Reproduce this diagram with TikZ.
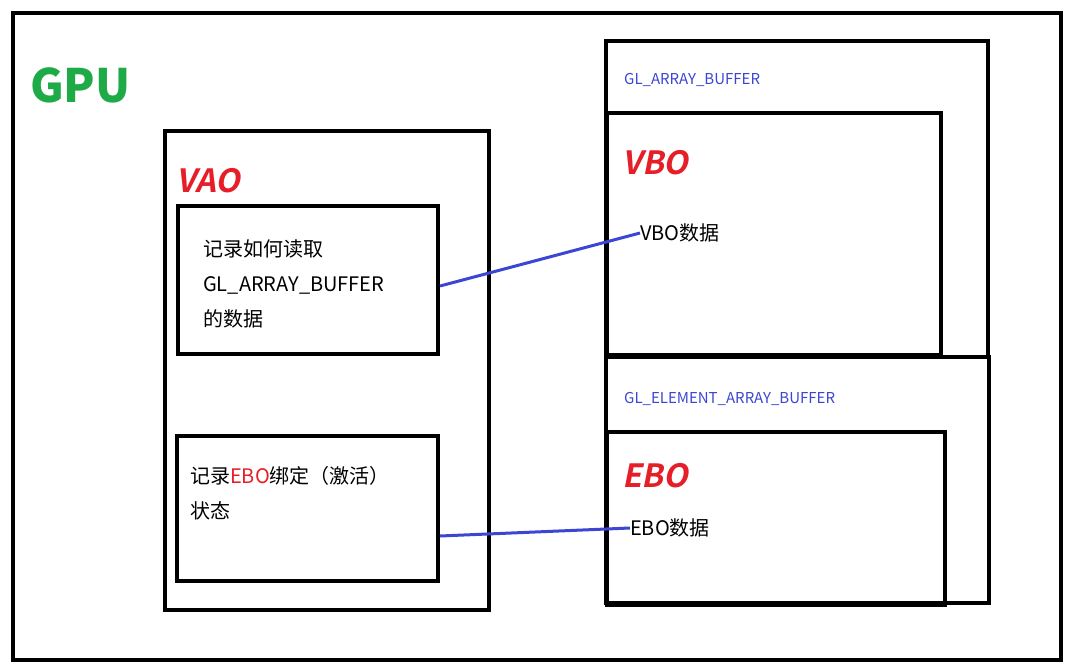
\documentclass[tikz,border=0pt]{standalone}
\usepackage{fontspec}
\setmainfont{Noto Sans CJK SC}
\newfontfamily\labfont[FakeSlant=0.2]{Noto Sans CJK SC Bold}
\definecolor{lred}{RGB}{230,30,40}
\definecolor{lblue}{RGB}{60,70,210}
\definecolor{lgreen}{RGB}{30,170,70}
\begin{document}
\begin{tikzpicture}[x=1pt,y=-1pt,
  box/.style={draw=black,line width=3.5pt},
  txt/.style={anchor=west,inner sep=0pt,font=\fontsize{20}{24}\selectfont},
  lab/.style={anchor=west,inner sep=0pt,text=lred,font=\fontsize{32}{36}\labfont},
  buf/.style={anchor=west,inner sep=0pt,text=lblue,font=\fontsize{15}{18}\selectfont},
  link/.style={draw=lblue,line width=3pt}]
\useasboundingbox (0,0) rectangle (1074,670);
\fill[white] (0,0) rectangle (1074,670);
\draw[box] (13,13) rectangle (1061,660);
\node[anchor=west,inner sep=0pt,text=lgreen,font=\fontsize{46}{50}\selectfont\bfseries] (gpu) at (30,85) {GPU};
\draw[box] (165,131) rectangle (489,610);
\node[lab] (vao) at (176,181) {VAO};
\draw[box] (178,206) rectangle (438,354);
\node[txt,align=left,anchor=north west,font=\fontsize{20}{35}\selectfont] (r1) at (203,239) {记录如何读取\\GL\_ARRAY\_BUFFER\\的数据};
\draw[box] (177,436) rectangle (438,581);
\node[txt,align=left,anchor=north west,font=\fontsize{20}{35}\selectfont] (r2) at (190,466) {记录{\color{lred}EBO}绑定（激活）\\状态};
\draw[box] (606,41) rectangle (988,357);
\node[buf] (ab) at (624,80) {GL\_ARRAY\_BUFFER};
\draw[box] (607,113) rectangle (941,355);
\node[lab] (vbo) at (622,163) {VBO};
\node[txt] (vd) at (640,233) {VBO数据};
\draw[box] (606,357) rectangle (989,603);
\node[buf] (eab) at (624,399) {GL\_ELEMENT\_ARRAY\_BUFFER};
\draw[box] (607,432) rectangle (945,605);
\node[lab] (ebo) at (622,476) {EBO};
\node[txt] (ed) at (630,528) {EBO数据};
\coordinate (a1) at (440,286);
\coordinate (a2) at (440,536);
\draw[link] (a1) -- (vd.west);
\draw[link] (a2) -- (ed.west);
\end{tikzpicture}
\end{document}
